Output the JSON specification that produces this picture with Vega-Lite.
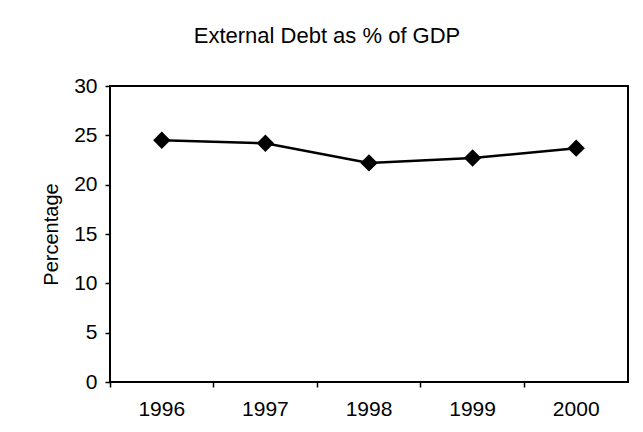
{
  "$schema": "https://vega.github.io/schema/vega-lite/v6.json",
  "autosize": "none",
  "width": 518,
  "height": 296,
  "padding": {"left": 110, "top": 86, "right": 15, "bottom": 50},
  "background": "white",
  "config": {
    "font": "Liberation Sans",
    "view": {"stroke": "black", "strokeWidth": 2}
  },
  "title": {
    "text": "External Debt as % of GDP",
    "fontSize": 22,
    "fontWeight": "normal",
    "color": "black",
    "anchor": "middle",
    "offset": 27,
    "dx": -42
  },
  "data": {
    "values": [
      {"year": "1996", "value": 24.5},
      {"year": "1997", "value": 24.2},
      {"year": "1998", "value": 22.2},
      {"year": "1999", "value": 22.7},
      {"year": "2000", "value": 23.7}
    ]
  },
  "encoding": {
    "x": {
      "field": "year",
      "type": "ordinal",
      "scale": {"type": "band", "paddingInner": 0, "paddingOuter": 0},
      "axis": {
        "title": null,
        "labelAngle": 0,
        "labelFontSize": 21,
        "labelColor": "black",
        "labelPadding": 11,
        "bandPosition": 0,
        "tickColor": "black",
        "tickSize": 5,
        "tickWidth": 1.5,
        "domain": false
      }
    },
    "y": {
      "field": "value",
      "type": "quantitative",
      "scale": {"domain": [0, 30]},
      "axis": {
        "title": "Percentage",
        "titleFontSize": 20,
        "titleFontWeight": "normal",
        "titleColor": "black",
        "titlePadding": 12,
        "values": [0, 5, 10, 15, 20, 25, 30],
        "labelFontSize": 21,
        "labelColor": "black",
        "labelPadding": 8,
        "tickColor": "black",
        "tickSize": 5,
        "tickWidth": 1.5,
        "grid": false,
        "domain": false
      }
    }
  },
  "layer": [
    {"mark": {"type": "line", "color": "black", "strokeWidth": 2.5}},
    {"mark": {"type": "point", "shape": "diamond", "filled": true, "color": "black", "size": 300, "opacity": 1}}
  ]
}
